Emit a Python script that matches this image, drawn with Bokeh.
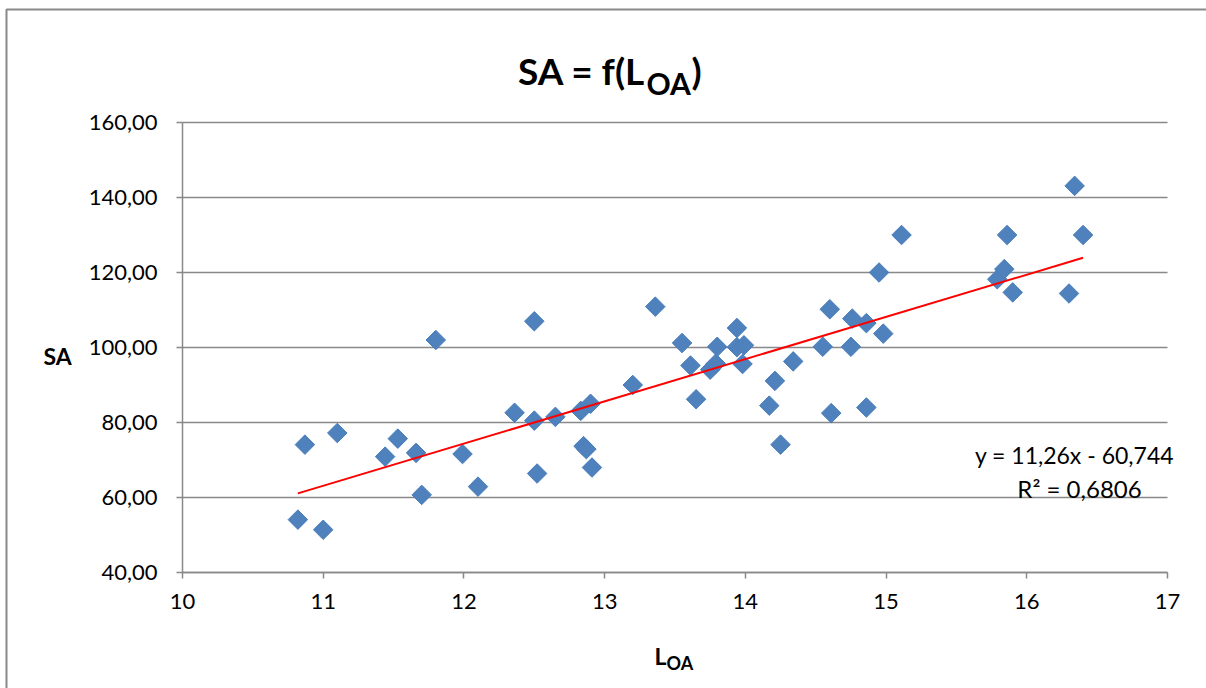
import numpy as np
from bokeh.plotting import figure
from bokeh.models import Label, FixedTicker, CustomJSTickFormatter, Range1d
from bokeh.embed import file_html
from bokeh.resources import INLINE

# Overall length L_OA and SA for each boat
loa = [10.82, 10.87, 11.00, 11.10, 11.44, 11.53, 11.66, 11.70, 11.80, 11.99,
       12.10, 12.36, 12.50, 12.50, 12.52, 12.65, 12.83, 12.85, 12.87, 12.90,
       12.91, 13.20, 13.36, 13.55, 13.61, 13.65, 13.75, 13.79, 13.80, 13.94,
       13.94, 13.98, 13.99, 14.17, 14.21, 14.25, 14.34, 14.55, 14.60, 14.61,
       14.75, 14.76, 14.86, 14.86, 14.95, 14.98, 15.11, 15.79, 15.84, 15.86,
       15.90, 16.30, 16.34, 16.40]
sa = [54.1, 74.1, 51.4, 77.2, 70.9, 75.7, 71.9, 60.7, 102.0, 71.6,
      62.9, 82.6, 80.5, 107.0, 66.4, 81.5, 83.1, 73.7, 72.9, 85.0,
      68.0, 90.0, 110.9, 101.2, 95.2, 86.2, 94.1, 95.7, 100.2, 105.2,
      100.1, 95.6, 100.6, 84.5, 91.1, 74.1, 96.3, 100.2, 110.2, 82.5,
      100.2, 107.7, 106.5, 84.0, 120.0, 103.7, 130.0, 118.2, 120.9, 130.0,
      114.7, 114.4, 143.1, 130.0]

# Linear trend fitted to the series
slope = 11.26
intercept = -60.744
r_squared = 0.6806

x_ticks = [10, 11, 12, 13, 14, 15, 16, 17]
y_ticks = [40, 60, 80, 100, 120, 140, 160]

X0, X1 = 10, 17
Y0, Y1 = 40, 160

# canvas size and plot-area edges (pixels)
W, H = 1206, 688
FL, FR, FT, FB = 182, 1167, 122, 572

# the frame fills the canvas; ranges are widened so the plot area sits at FL..FR / FT..FB
sx = (X1 - X0) / (FR - FL)
sy = (Y1 - Y0) / (FB - FT)
x_start = X0 - FL * sx
x_end = x_start + W * sx
y_end = Y1 + FT * sy
y_start = y_end - H * sy


def px_x(px):
    return X0 + (px - FL) * sx


def px_y(py):
    return Y0 + (FB - py) * sy


FONT = "Lato"
GREY = "#898989"

p = figure(width=W, height=H,
           x_range=Range1d(x_start, x_end), y_range=Range1d(y_start, y_end),
           output_backend="svg", toolbar_location=None,
           min_border_left=0, min_border_right=0,
           min_border_top=0, min_border_bottom=0)
p.outline_line_color = None
p.background_fill_color = "white"
p.border_fill_color = "white"
p.xgrid.visible = False
p.ygrid.visible = False

# chart-area border (left and top edges)
p.line([px_x(6), px_x(6), px_x(W + 10)], [px_y(H + 10), px_y(9), px_y(9)],
       line_color=GREY, line_width=2)

# horizontal gridlines across the plot area
p.segment(x0=[X0] * len(y_ticks), x1=[X1] * len(y_ticks), y0=y_ticks, y1=y_ticks,
          line_color=GREY, line_width=1.5)

for ax in (p.xaxis[0], p.yaxis[0]):
    ax.axis_line_color = GREY
    ax.axis_line_width = 1.5
    ax.major_tick_line_color = GREY
    ax.major_tick_line_width = 1.5
    ax.major_tick_in = 0
    ax.major_tick_out = 6
    ax.minor_tick_line_color = None
    ax.major_label_text_font = FONT
    ax.major_label_text_font_size = "22px"
    ax.major_label_text_color = "black"

p.xaxis.fixed_location = Y0
p.xaxis.bounds = (X0, X1)
p.yaxis.fixed_location = X0
p.yaxis.bounds = (Y0, Y1)
p.xaxis.ticker = FixedTicker(ticks=x_ticks)
p.yaxis.ticker = FixedTicker(ticks=y_ticks)
p.yaxis.formatter = CustomJSTickFormatter(code="return tick.toFixed(2).replace('.', ',');")
p.xaxis.major_label_standoff = 15
p.yaxis.major_label_standoff = 19

# data points
p.scatter(loa, sa, marker="square", angle=np.pi / 4, size=13.8,
          fill_color="#4F81BD", line_color="#4A7EBB", line_width=1)

# trend line across the data span
tx = np.array([min(loa), max(loa)])
p.line(tx, slope * tx + intercept, line_color="red", line_width=2)


def add_text(text, px, py, size, bold=False, align="left"):
    p.add_layout(Label(x=px_x(px), y=px_y(py), text=text,
                       text_font=FONT, text_font_size=f"{size}px",
                       text_font_style="bold" if bold else "normal",
                       text_align=align, text_baseline="alphabetic",
                       text_color="black"))


# title  SA = f(L_OA)
add_text("SA = f(L", 645, 70, 37, bold=True, align="right")
add_text("OA", 646, 82, 30, bold=True)
add_text(")", 691, 70, 37, bold=True)

# axis titles
add_text("SA", 43, 355, 23, bold=True)
add_text("L", 666, 655, 23, bold=True, align="right")
add_text("OA", 666, 662, 18, bold=True)

# trend equation
eq = f"y = {slope:.2f}x - {abs(intercept):.3f}".replace(".", ",")
r2 = f"R² = {r_squared:.4f}".replace(".", ",")
add_text(eq, 1074, 454, 23, align="center")
add_text(r2, 1079, 488, 24, align="center")

open("out.html", "w").write(file_html(p, INLINE))
